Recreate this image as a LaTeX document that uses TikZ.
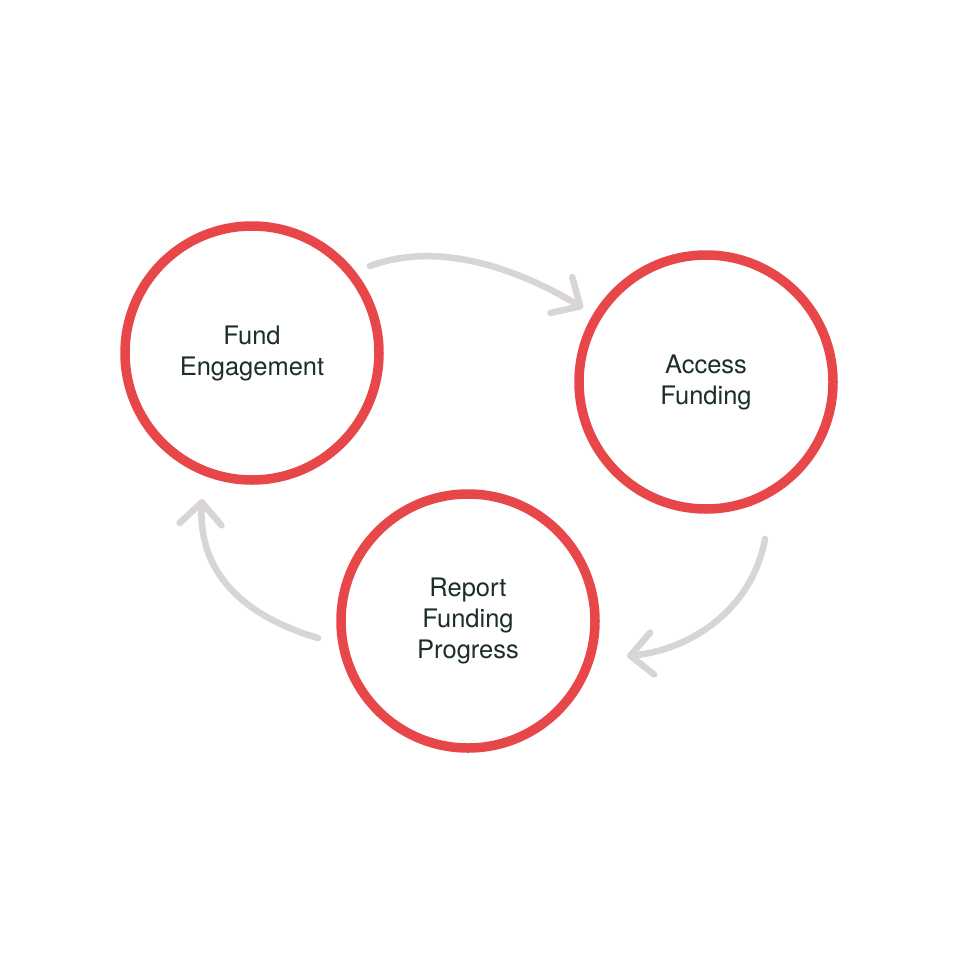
\documentclass[tikz,border=0pt]{standalone}
\usepackage{fontspec}
\setmainfont{TeX Gyre Heros}
\usetikzlibrary{arrows.meta}
\definecolor{ringred}{HTML}{E8474A}
\definecolor{arrowgray}{HTML}{DAD5D5}
\definecolor{textdark}{HTML}{1B2E2A}
\begin{document}
\begin{tikzpicture}[x=1pt,y=-1pt,
  ring/.style={circle, draw=ringred, line width=9.5pt, minimum size=254pt, inner sep=0pt,
    align=center, text=textdark, font=\fontsize{25.5}{31}\selectfont},
  cyc/.style={draw=arrowgray, line width=6.5pt, line cap=round,
    -{Straight Barb[length=22pt, width=42pt, line cap=round, line join=round]}}
]
\useasboundingbox (0,0) rectangle (968,969);
\fill[white] (0,0) rectangle (968,969);
\node[ring] (fe) at (252,353) {Fund\\Engagement};
\node[ring] (af) at (706,382) {Access\\Funding};
\node[ring] (rp) at (468,621) {Report\\Funding\\Progress};
\coordinate (s1) at (370,266);
\coordinate (e1) at (583,308);
\coordinate (s2) at (765,539);
\coordinate (e2) at (627,656);
\coordinate (s3) at (318,638);
\coordinate (e3) at (202,499);
\draw[cyc] (s1) .. controls (440,240) and (520,270) .. (e1);
\draw[cyc] (s2) .. controls (752,610) and (690,650) .. (e2);
\draw[cyc] (s3) .. controls (240,615) and (198,570) .. (e3);
\end{tikzpicture}
\end{document}
